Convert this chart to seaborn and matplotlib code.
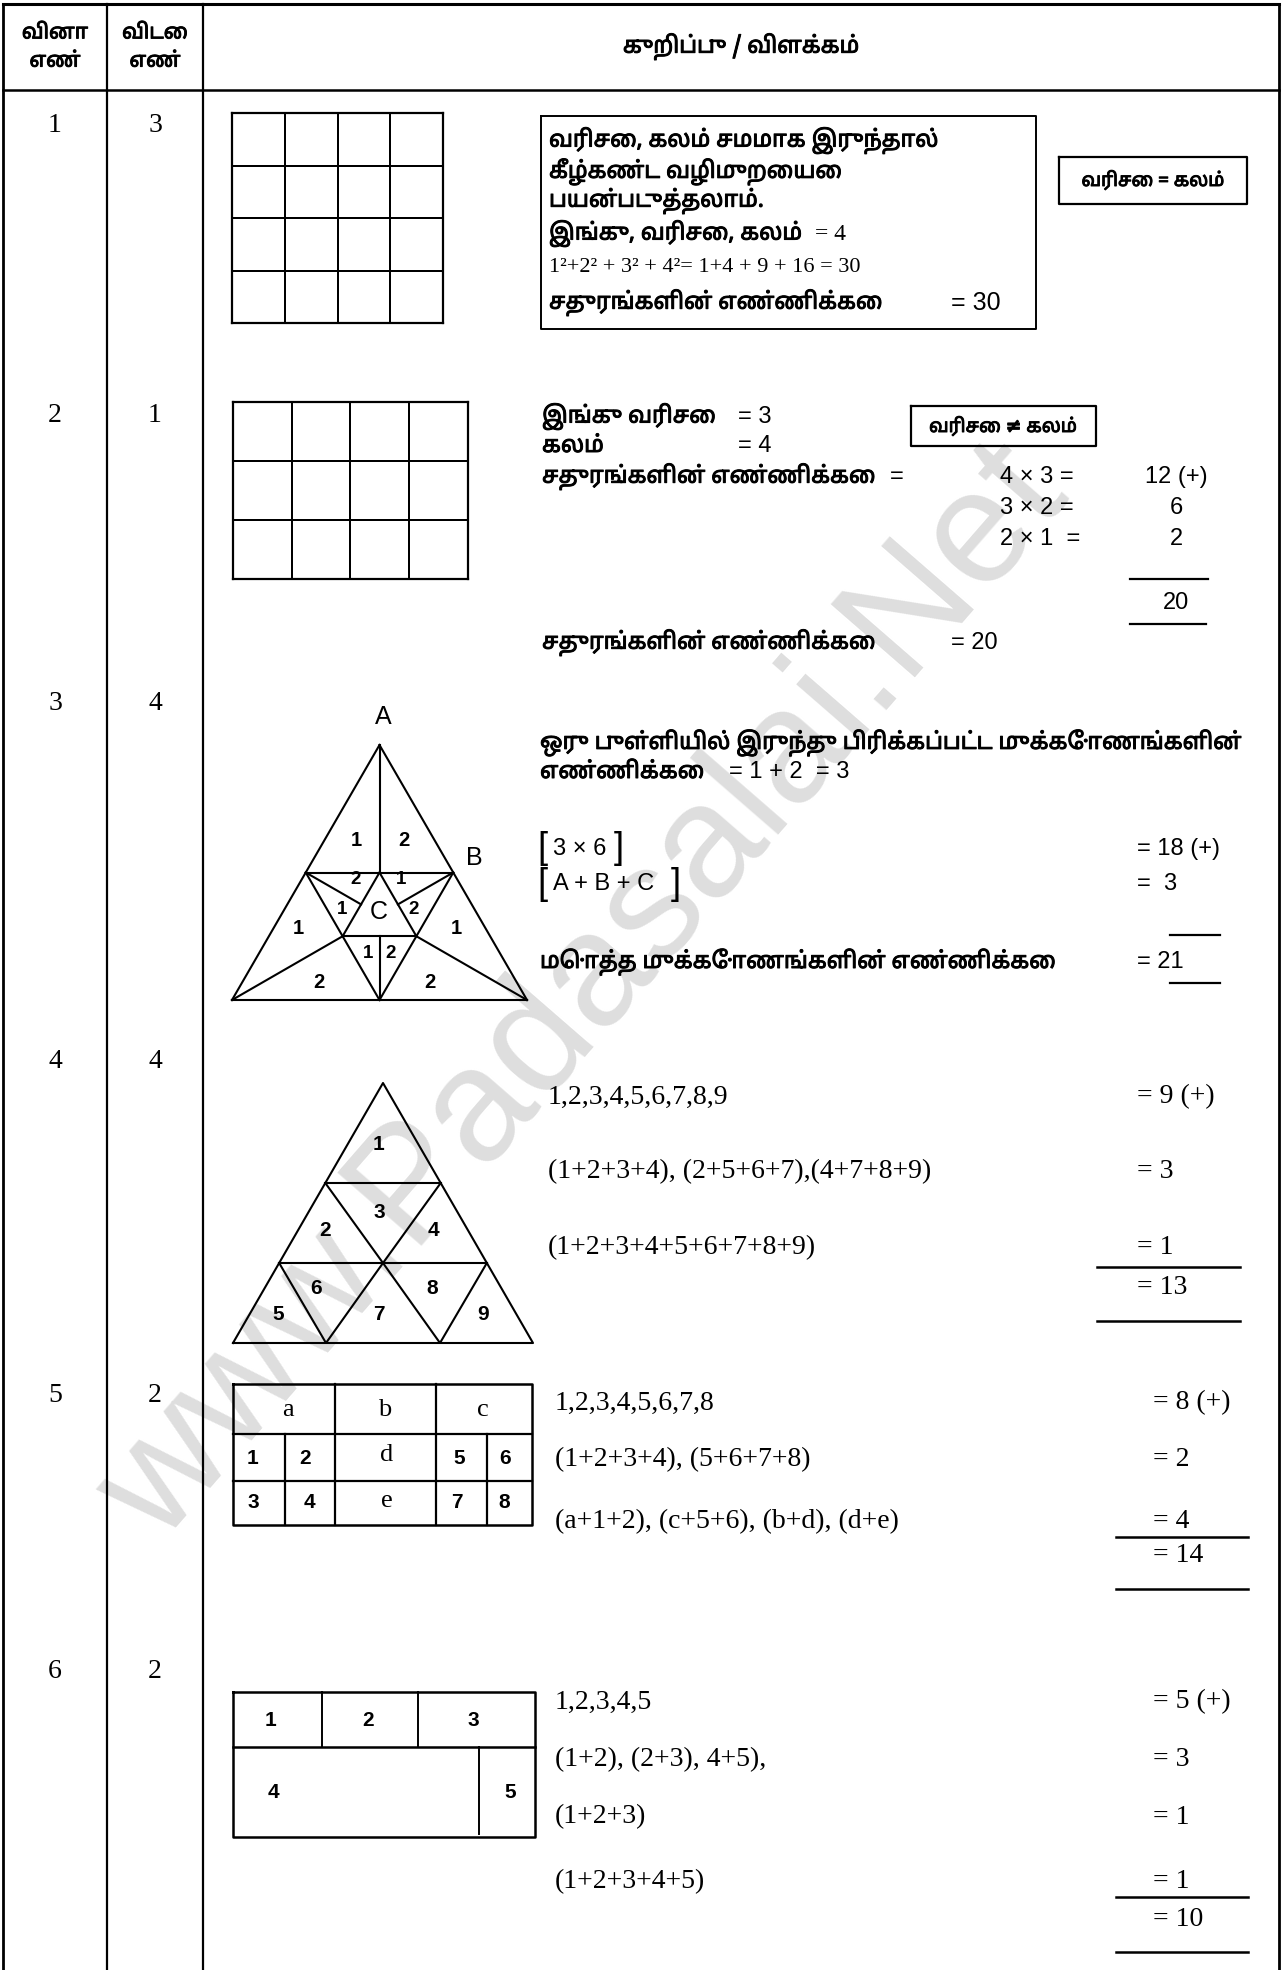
import numpy as np
import matplotlib
matplotlib.use('Agg')
import matplotlib.pyplot as plt
import matplotlib.patheffects as pe
from matplotlib import font_manager
from matplotlib.colors import ListedColormap
import seaborn as sns

# ---- page content ----
W, H = 1283, 1970

head_q = 'வினா\nஎண்'
head_a = 'விடை\nஎண்'
head_note = 'குறிப்பு / விளக்கம்'

q_nums = ['1', '2', '3', '4', '5', '6']
ans_nums = ['3', '1', '4', '4', '2', '2']

# row 1 : square grid
r1_size = 4
r1_lines = ['வரிசை, கலம் சமமாக இருந்தால்',
            'கீழ்கண்ட வழிமுறையை',
            'பயன்படுத்தலாம்.',
            'இங்கு, வரிசை, கலம்']
r1_side = '= 4'
r1_formula = '1²+2² + 3² + 4²= 1+4 + 9 + 16 = 30'
r1_total = 'சதுரங்களின் எண்ணிக்கை'
r1_total_val = '= 30'
r1_tag = 'வரிசை = கலம்'

# row 2 : 3 x 4 grid
r2_rows, r2_cols = 3, 4
r2_labels = ['இங்கு வரிசை', 'கலம்', 'சதுரங்களின் எண்ணிக்கை']
r2_values = ['= 3', '= 4', '=']
r2_products = ['4 × 3 =', '3 × 2 =', '2 × 1  =']
r2_results = ['12 (+)', '6', '2']
r2_sum = '20'
r2_total = 'சதுரங்களின் எண்ணிக்கை'
r2_total_val = '= 20'
r2_tag = 'வரிசை ≠ கலம்'

# row 3 : divided triangle
r3_intro = ['ஒரு புள்ளியில் இருந்து பிரிக்கப்பட்ட முக்கோணங்களின்',
            'எண்ணிக்கை']
r3_intro_val = '= 1 + 2  = 3'
r3_terms = ['3 × 6', 'A + B + C']
r3_values = ['= 18 (+)', '=  3']
r3_total = 'மொத்த முக்கோணங்களின் எண்ணிக்கை'
r3_total_val = '= 21'
r3_vertex = ['A', 'B', 'C']
r3_parts = ['1', '2', '2', '1', '1', '2', '1', '1', '1', '2', '2', '2']

# row 4 : nine-piece triangle
r4_parts = ['1', '2', '3', '4', '6', '8', '5', '7', '9']
r4_terms = ['1,2,3,4,5,6,7,8,9',
            '(1+2+3+4), (2+5+6+7),(4+7+8+9)',
            '(1+2+3+4+5+6+7+8+9)']
r4_values = ['= 9 (+)', '= 3', '= 1']
r4_total = '= 13'

# row 5 : rectangle a..e / 1..8
r5_cells = ['a', 'b', 'c', '1', '2', 'd', '5', '6', '3', '4', 'e', '7', '8']
r5_terms = ['1,2,3,4,5,6,7,8',
            '(1+2+3+4), (5+6+7+8)',
            '(a+1+2), (c+5+6), (b+d), (d+e)']
r5_values = ['= 8 (+)', '= 2', '= 4']
r5_total = '= 14'

# row 6 : rectangle 1..5
r6_cells = ['1', '2', '3', '4', '5']
r6_terms = ['1,2,3,4,5', '(1+2), (2+3), 4+5),', '(1+2+3)', '(1+2+3+4+5)']
r6_values = ['= 5 (+)', '= 3', '= 1', '= 1']
r6_total = '= 10'

watermark = 'www.Padasalai.Net'


def find_tamil_font():
    try:
        from fontTools.ttLib import TTFont
    except ImportError:
        return None
    found = []
    seen = set()
    for f in font_manager.fontManager.ttflist:
        if f.fname in seen:
            continue
        seen.add(f.fname)
        try:
            tt = TTFont(f.fname, fontNumber=0, lazy=True)
            cmap = tt.getBestCmap()
            if cmap and 0x0B95 in cmap:
                found.append(f.name)
        except Exception:
            continue
    for pref in ['Noto Sans Tamil', 'Lohit Tamil', 'FreeSans', 'Latha']:
        if pref in found:
            return pref
    return found[0] if found else None


sns.set_theme(style='white')
tam = find_tamil_font()
TAM = [tam, 'DejaVu Sans'] if tam else ['DejaVu Sans']
SERIF = ['Liberation Serif', 'DejaVu Serif']
SANS = ['Liberation Sans', 'DejaVu Sans']
plt.rcParams['font.family'] = TAM

fig = plt.figure(figsize=(W / 100, H / 100), dpi=100)
ax = fig.add_axes([0, 0, 1, 1])
ax.set_xlim(0, W)
ax.set_ylim(H, 0)
ax.axis('off')

# the Tamil face has no bold weight here, so thicken it a little
heavy = [pe.withStroke(linewidth=0.7, foreground='black')]


def line(xs, ys, lw=1.5, z=3):
    ax.plot(xs, ys, color='black', lw=lw, solid_capstyle='projecting', zorder=z)


def box(x0, y0, x1, y1, lw=1.5):
    line([x0, x1, x1, x0, x0], [y0, y0, y1, y1, y0], lw)


def txt(x, y, s, size=16.5, fam=None, ha='left', weight='normal', **kw):
    if fam is None:
        fam, weight = TAM, 'bold'
        kw.setdefault('path_effects', heavy)
    ax.text(x, y, s, fontsize=size, family=fam, ha=ha, va='center',
            weight=weight, color='black', zorder=4, **kw)


def grid(x0, y0, x1, y1, nr, nc):
    gax = fig.add_axes([x0 / W, 1 - y1 / H, (x1 - x0) / W, (y1 - y0) / H])
    sns.heatmap(np.zeros((nr, nc)), ax=gax, cmap=ListedColormap(['white']),
                cbar=False, linewidths=1.4, linecolor='black',
                xticklabels=False, yticklabels=False)
    for s in gax.spines.values():
        s.set_visible(True)
        s.set_linewidth(1.6)
        s.set_color('black')


# watermark
ax.text(585, 995, watermark, fontsize=116, family=SANS, color='#dedede',
        rotation=49, ha='center', va='center', zorder=0)

# ---- page frame ----
line([3, 3], [4, H], 2)
line([1279, 1279], [4, H], 2)
line([107, 107], [4, H], 1.6)
line([203, 203], [4, H], 1.6)
line([3, 1279], [4, 4], 2.2)
line([3, 1279], [90, 90], 1.8)

txt(55, 47, head_q, 15, ha='center', linespacing=1.45)
txt(155, 47, head_a, 15, ha='center', linespacing=1.45)
txt(741, 47, head_note, 16.5, ha='center')

row_y = [126, 415, 704, 1062, 1395, 1671]
for q, a, y in zip(q_nums, ans_nums, row_y):
    txt(55, y, q, 20, SERIF, ha='center')
    txt(155, y, a, 20, SERIF, ha='center')

# ---- row 1 ----
grid(232, 113, 443, 323, r1_size, r1_size)
box(541, 116, 1036, 329, 1.4)
for s, y in zip(r1_lines, [141, 172, 201, 234]):
    txt(549, y, s)
txt(815, 234, r1_side, 17, SERIF)
txt(549, 268, r1_formula, 16, SERIF)
txt(549, 303, r1_total)
txt(951, 303, r1_total_val, 18, SANS)
box(1059, 157, 1247, 204, 1.6)
txt(1153, 180, r1_tag, 13.5, ha='center')

# ---- row 2 ----
grid(233, 402, 468, 579, r2_rows, r2_cols)
for s, y in zip(r2_labels, [417, 446, 477]):
    txt(542, y, s)
for v, x, y in zip(r2_values, [738, 738, 890], [417, 446, 477]):
    txt(x, y, v, 17, SANS)
for p, r, y in zip(r2_products, r2_results, [477, 508, 539]):
    txt(1000, y, p, 17, SANS)
    if r == r2_results[0]:
        txt(1145, y, r, 17, SANS)
    else:
        txt(1176, y, r, 17, SANS, ha='center')
line([1130, 1208], [579, 579], 1.6)
txt(1176, 603, r2_sum, 17, SANS, ha='center')
line([1130, 1206], [624, 624], 1.6)
txt(542, 643, r2_total)
txt(951, 643, r2_total_val, 17, SANS)
box(911, 406, 1096, 446, 1.6)
txt(1003, 426, r2_tag, 13.5, ha='center')

# ---- row 3 : triangle ----
A = np.array([379.5, 745.0])
BL = np.array([232.0, 1000.0])
BR = np.array([527.0, 1000.0])
mid = lambda p, q: (p + q) / 2
ML, MR, MB = mid(A, BL), mid(A, BR), mid(BL, BR)
MT = mid(ML, MR)
IL, IR = mid(ML, MB), mid(MR, MB)
segs = [(A, BL), (BL, BR), (BR, A), (ML, MR), (ML, MB), (MR, MB), (A, MT),
        (MT, IL), (IL, IR), (IR, MT), (BL, IL), (BR, IR), (MB, mid(IL, IR)),
        (ML, mid(MT, IL)), (MR, mid(MT, IR))]
for p, q in segs:
    line([p[0], q[0]], [p[1], q[1]], 1.5)
for s, (x, y) in zip(r3_vertex, [(383, 717), (474, 858), (379, 912)]):
    txt(x, y, s, 18, SANS, ha='center')
r3_pos = [(356, 840), (404, 840), (356, 879), (401, 879), (342, 909), (414, 909),
          (298, 929), (456, 929), (368, 953), (391, 953), (319, 982), (430, 982)]
for s, (x, y) in zip(r3_parts, r3_pos):
    sz = 13.5 if 860 < y < 970 and 330 < x < 430 else 14.5
    txt(x, y, s, sz, SANS, ha='center', weight='bold')

txt(540, 743, r3_intro[0])
txt(540, 772, r3_intro[1])
txt(729, 772, r3_intro_val, 17, SANS)
for t, v, y, rx in zip(r3_terms, r3_values, [849, 884], [614, 671]):
    txt(537, y, '[', 26, SANS)
    txt(553, y, t, 17, SANS)
    txt(rx, y, ']', 26, SANS)
    txt(1137, y, v, 17, SANS)
line([1170, 1220], [935, 935], 1.6)
txt(540, 962, r3_total)
txt(1137, 962, r3_total_val, 17, SANS)
line([1170, 1220], [983, 983], 1.6)

# ---- row 4 : nine-piece triangle ----
apex, base_y, y1, y2 = (383, 1083), 1343, 1183, 1263
xl, xr = 233, 533
side = lambda y: (xl + (apex[0] - xl) * (base_y - y) / (base_y - apex[1]),
                  xr - (xr - apex[0]) * (base_y - y) / (base_y - apex[1]))
l1, r1 = side(y1)
l2, r2 = side(y2)
line([xl, apex[0], xr, xl], [base_y, apex[1], base_y, base_y], 1.5)
line([l1, r1], [y1, y1], 1.5)
line([l2, r2], [y2, y2], 1.5)
line([l1, apex[0], r1], [y1, y2, y1], 1.5)
line([l2, 326, apex[0], 440, r2], [y2, base_y, y2, base_y, y2], 1.5)
r4_pos = [(378, 1145), (325, 1230), (379, 1213), (433, 1230), (316, 1288),
          (432, 1288), (278, 1314), (379, 1314), (483, 1314)]
for s, (x, y) in zip(r4_parts, r4_pos):
    txt(x, y, s, 15, SANS, ha='center', weight='bold')

for t, v, y in zip(r4_terms, r4_values, [1097, 1172, 1248]):
    txt(548, y, t, 20, SERIF)
    txt(1137, y, v, 20, SERIF)
line([1097, 1240], [1267, 1267], 1.8)
txt(1137, 1288, r4_total, 20, SERIF)
line([1097, 1240], [1321, 1321], 1.8)

# ---- row 5 : table a..e ----
t0, t1, t2, t3 = 1384, 1434, 1481, 1525
box(233, t0, 532, t3, 1.8)
line([233, 532], [t1, t1], 1.6)
line([233, 532], [t2, t2], 1.6)
for x in [335, 436]:
    line([x, x], [t0, t3], 1.6)
for x in [285, 487]:
    line([x, x], [t1, t3], 1.6)
r5_pos = [(288, 1410), (385, 1410), (483, 1410), (252, 1458), (305, 1458),
          (387, 1455), (459, 1458), (505, 1458), (253, 1503), (309, 1503),
          (387, 1501), (457, 1503), (504, 1503)]
for s, (x, y) in zip(r5_cells, r5_pos):
    if s.isdigit():
        txt(x, y, s, 15, SANS, ha='center', weight='bold')
    else:
        txt(x, y, s, 19, SERIF, ha='center')
for t, v, y in zip(r5_terms, r5_values, [1403, 1460, 1522]):
    txt(555, y, t, 20, SERIF)
    txt(1153, y, v, 20, SERIF)
line([1116, 1248], [1537, 1537], 1.8)
txt(1153, 1556, r5_total, 20, SERIF)
line([1116, 1248], [1589, 1589], 1.8)

# ---- row 6 : table 1..5 ----
s0, s1, s2 = 1692, 1747, 1837
box(233, s0, 535, s2, 1.8)
line([233, 535], [s1, s1], 1.8)
for x in [322, 418]:
    line([x, x], [s0, s1], 1.4)
line([479, 479], [s1, s2 - 3], 1.4)
r6_pos = [(270, 1720), (368, 1720), (473, 1720), (273, 1793), (510, 1793)]
for s, (x, y) in zip(r6_cells, r6_pos):
    txt(x, y, s, 15, SANS, ha='center', weight='bold')
for t, v, y in zip(r6_terms, r6_values, [1702, 1760, 1817, 1882]):
    txt(555, y, t, 20, SERIF)
    txt(1153, y, v, 20, SERIF)
line([1116, 1248], [1897, 1897], 1.8)
txt(1153, 1920, r6_total, 20, SERIF)
line([1116, 1248], [1952, 1952], 1.8)

fig.savefig('out.png', dpi=100, facecolor='white')
